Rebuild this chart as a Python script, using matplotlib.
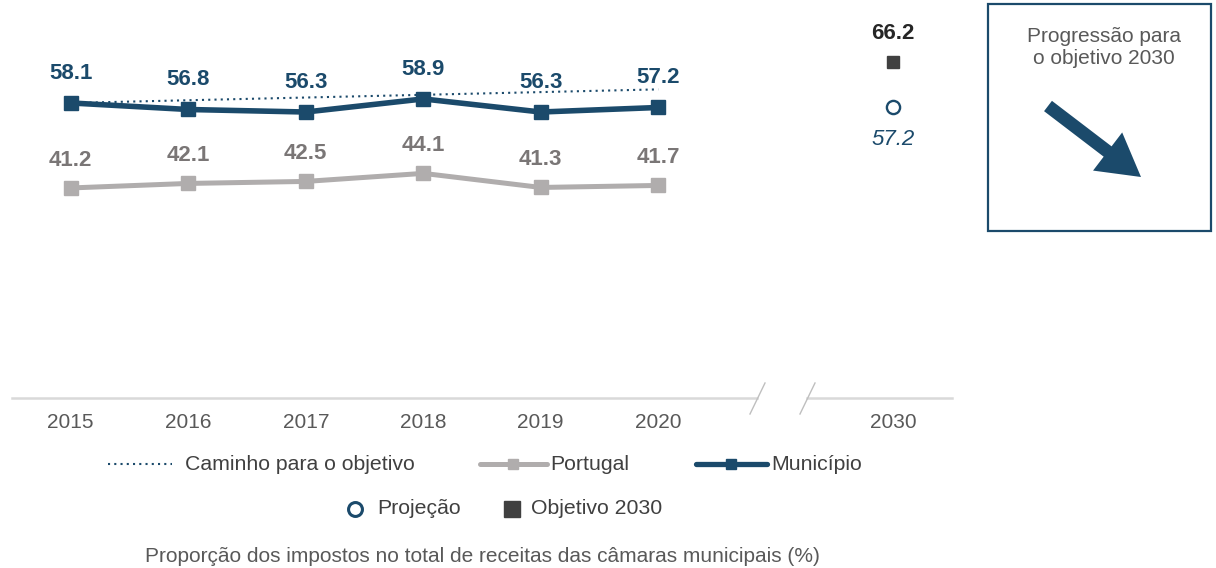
import matplotlib
matplotlib.use("Agg")
import matplotlib.pyplot as plt
from matplotlib.patches import Rectangle, FancyArrow

plt.rcParams['font.family'] = ['Liberation Sans', 'DejaVu Sans']

# --- data ---
years = ["2015", "2016", "2017", "2018", "2019", "2020"]
target_year = "2030"
municipio = [58.1, 56.8, 56.3, 58.9, 56.3, 57.2]
portugal = [41.2, 42.1, 42.5, 44.1, 41.3, 41.7]
path_years = ["2015", "2020"]
path_values = [58.1, 60.8]
objetivo_2030 = 66.2
projecao_2030 = 57.2

BLUE = "#1B4A6B"
GREY_LINE = "#B0ADAD"
GREY_TXT = "#7A7676"
DARK = "#404040"
TICK = "#595959"
FS = 15
LFS = 15.3
DOTS = (0, (1, 2))

W, H = 1216, 568
fig = plt.figure(figsize=(W / 100, H / 100), dpi=100)

ax_left, ax_right, ax_bottom = 12, 952, 398
ax = fig.add_axes([ax_left / W, (H - ax_bottom) / H,
                   (ax_right - ax_left) / W, ax_bottom / H])
ax.set_xlim(-0.5, 7.5)
ax.set_ylim(-0.56, 78.57)
ax.axis("off")

xs = list(range(len(years)))
x_target = 7
path_x = [years.index(y) for y in path_years]

ax.plot(path_x, path_values, color=BLUE, lw=1.5, ls=DOTS, zorder=2)
ax.plot(xs, portugal, color=GREY_LINE, lw=3.6, marker="s", ms=9.5,
        solid_capstyle="butt", zorder=3)
ax.plot(xs, municipio, color=BLUE, lw=4, marker="s", ms=9.5,
        solid_capstyle="butt", zorder=4)

for x, v in zip(xs, municipio):
    ax.annotate(f"{v:.1f}", (x, v), xytext=(0, 21.5), textcoords="offset points",
                ha="center", va="center", fontsize=16, fontweight="bold", color=BLUE)
for x, v in zip(xs, portugal):
    ax.annotate(f"{v:.1f}", (x, v), xytext=(0, 20), textcoords="offset points",
                ha="center", va="center", fontsize=16, fontweight="bold", color=GREY_TXT)

ax.plot([x_target], [objetivo_2030], marker="s", ms=9, color=DARK, ls="none")
ax.plot([x_target], [projecao_2030], marker="o", ms=9.5, mfc="white",
        mec=BLUE, mew=1.7, ls="none")
ax.annotate(f"{objetivo_2030:.1f}", (x_target, objetivo_2030), xytext=(0, 21),
            textcoords="offset points", ha="center", va="center",
            fontsize=16, fontweight="bold", color="#262626")
ax.annotate(f"{projecao_2030:.1f}", (x_target, projecao_2030), xytext=(0, -23),
            textcoords="offset points", ha="center", va="center",
            fontsize=16, fontstyle="italic", color=BLUE)

# overlay in pixel coordinates for axis line, ticks, legend and side box
ov = fig.add_axes([0, 0, 1, 1])
ov.set_xlim(0, W)
ov.set_ylim(H, 0)
ov.axis("off")
ov.patch.set_alpha(0)

def px(xv):
    return ax_left + (xv + 0.5) / 8.0 * (ax_right - ax_left)

axis_c = "#D9D9D9"
ov.plot([ax_left, 757], [398, 398], color=axis_c, lw=1.8)
ov.plot([807, ax_right], [398, 398], color=axis_c, lw=1.8)
ov.plot([750, 765], [414, 383], color="#BFBFBF", lw=1.0)
ov.plot([800, 815], [414, 383], color="#BFBFBF", lw=1.0)

for i, y in enumerate(years):
    ov.text(px(i), 423, y, ha="center", va="center", fontsize=FS, color=TICK)
ov.text(px(x_target), 423, target_year, ha="center", va="center", fontsize=FS, color=TICK)

# legend, row 1
ly = 464
ov.plot([108, 172], [ly, ly], color=BLUE, lw=1.5, ls=DOTS)
ov.text(185, ly, "Caminho para o objetivo", ha="left", va="center", fontsize=LFS, color=DARK)
ov.plot([480, 547], [ly, ly], color=GREY_LINE, lw=3.6, solid_capstyle="round")
ov.plot([513], [ly], marker="s", ms=7.5, color=GREY_LINE)
ov.text(550, ly, "Portugal", ha="left", va="center", fontsize=LFS, color=DARK)
ov.plot([696, 767], [ly, ly], color=BLUE, lw=3.8, solid_capstyle="round")
ov.plot([731], [ly], marker="s", ms=7.5, color=BLUE)
ov.text(771, ly, "Município", ha="left", va="center", fontsize=LFS, color=DARK)

# legend, row 2
ly2 = 509
ov.plot([355], [ly2], marker="o", ms=10, mfc="white", mec=BLUE, mew=2.2)
ov.text(377, ly2, "Projeção", ha="left", va="center", fontsize=LFS, color=DARK)
ov.plot([512], [ly2], marker="s", ms=11.5, color=DARK)
ov.text(531, ly2, "Objetivo 2030", ha="left", va="center", fontsize=LFS, color=DARK)

ov.text(482, 556, "Proporção dos impostos no total de receitas das câmaras municipais (%)",
        ha="center", va="center", fontsize=FS, color=TICK)

# side box
ov.add_patch(Rectangle((988, 4), 223, 227, fill=False, ec=BLUE, lw=1.6))
ov.text(1104, 48, "Progressão para\no objetivo 2030", ha="center", va="center",
        fontsize=FS, color=TICK, linespacing=1.2)
ov.add_patch(FancyArrow(1048, 106, 1141 - 1048, 177 - 106, width=13,
                        head_width=48, head_length=42,
                        length_includes_head=True, color=BLUE, lw=0))

fig.savefig("out.png", dpi=100)
